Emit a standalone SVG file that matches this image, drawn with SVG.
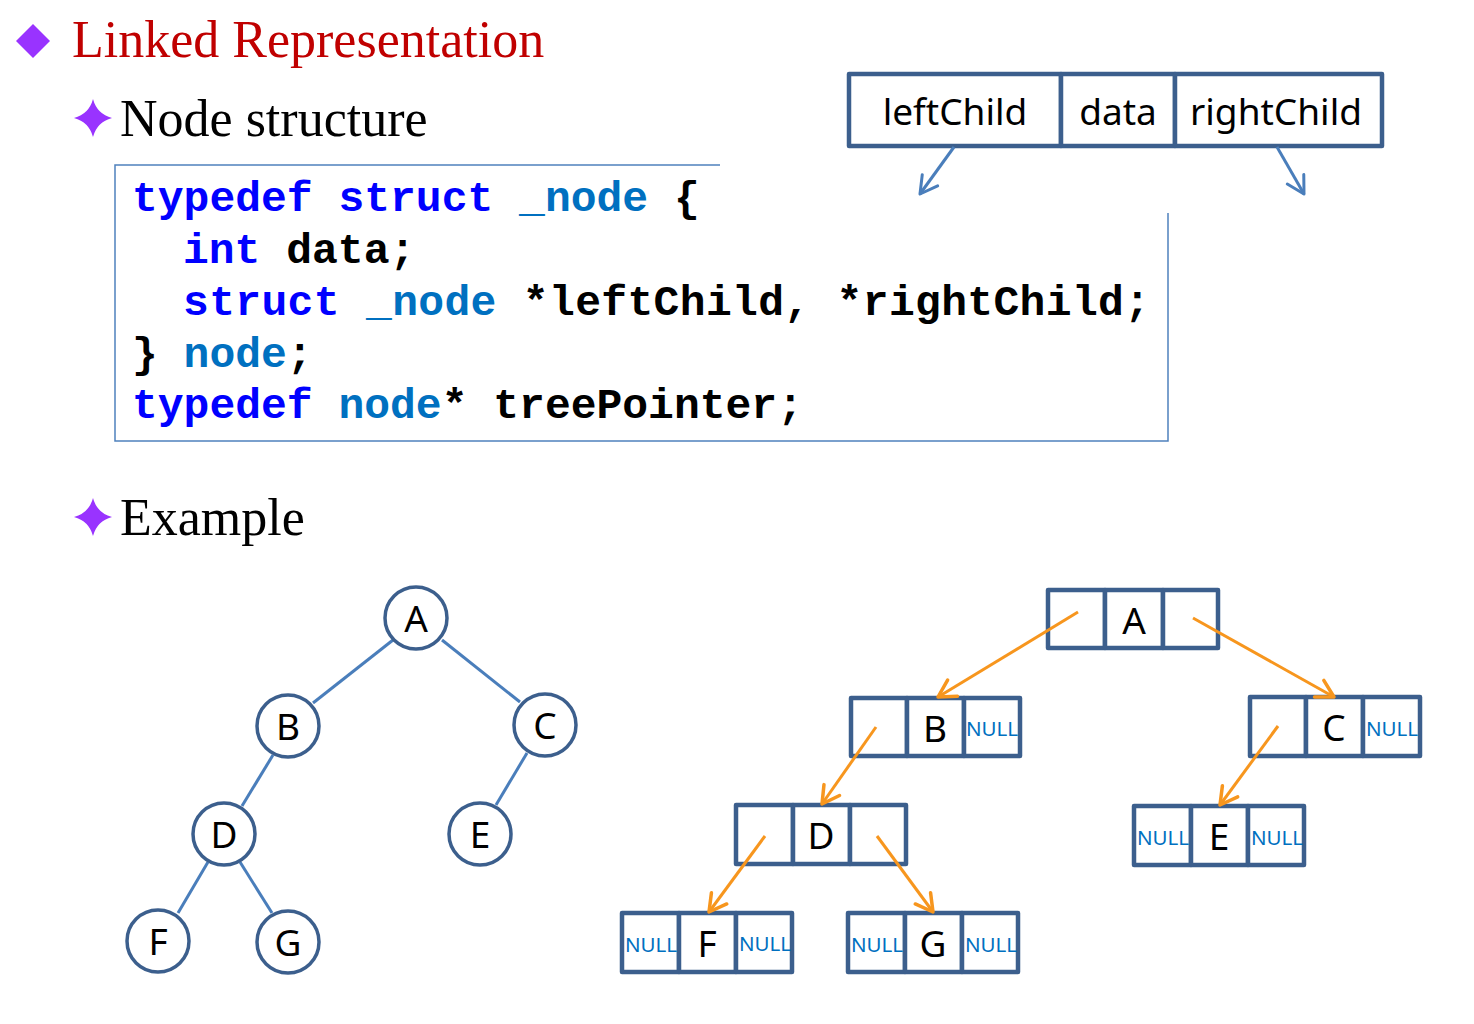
<svg xmlns="http://www.w3.org/2000/svg" width="1474" height="1024" viewBox="0 0 1474 1024">
<style>
.h{font-family:"Liberation Serif","Times New Roman",serif;font-size:52px}
.code{font-family:"Liberation Mono","Courier New",monospace;font-size:43px;font-weight:bold;fill:#000}
.kw{fill:#0000FF}
.ty{fill:#0070C0}
.lbl{font-family:"Noto Sans","Open Sans",sans-serif;font-size:37px;fill:#000;text-anchor:middle}
.nul{font-family:"Noto Sans","Open Sans",sans-serif;font-size:20.5px;fill:#0070C0}
.cell{fill:#fff;stroke:#3C5F8D;stroke-width:4.5;stroke-linejoin:round}
.circ{fill:#fff;stroke:#3C5F8D;stroke-width:3.5}
.edge{stroke:#4A7EBB;stroke-width:3;fill:none}
.ptr{stroke:#F7961E;stroke-width:3;fill:none;marker-end:url(#ao)}
.bptr{stroke:#4A7EBB;stroke-width:3;fill:none;marker-end:url(#ab)}
</style>
<defs>
<marker id="ao" markerUnits="userSpaceOnUse" markerWidth="40" markerHeight="40" refX="0" refY="0" viewBox="-20 -20 40 40" orient="auto" overflow="visible">
<path d="M-17,-9.5 L0,0 L-17,9.5" fill="none" stroke="#F7961E" stroke-width="3.5" stroke-linecap="round" stroke-linejoin="round"/>
</marker>
<marker id="ab" markerUnits="userSpaceOnUse" markerWidth="40" markerHeight="40" refX="0" refY="0" viewBox="-20 -20 40 40" orient="auto" overflow="visible">
<path d="M-17,-9.5 L0,0 L-17,9.5" fill="none" stroke="#4A7EBB" stroke-width="3" stroke-linecap="round" stroke-linejoin="round"/>
</marker>
</defs>
<rect width="1474" height="1024" fill="#fff"/>

<g id="heading">
<polygon points="33,24 50,41 33,58 16,41" fill="#9933FF"/>
<text class="h" x="72" y="57" fill="#C00000">Linked Representation</text>
<path d="M93,99 Q97,114 112,118 Q97,122 93,137 Q89,122 74,118 Q89,114 93,99 Z" fill="#9933FF"/>
<text class="h" x="120" y="136" fill="#000">Node structure</text>
<path d="M93,498 Q97,513 112,517 Q97,521 93,536 Q89,521 74,517 Q89,513 93,498 Z" fill="#9933FF"/>
<text class="h" x="120" y="535" fill="#000">Example</text>
</g>

<g id="code">
<polyline points="720,165 115,165 115,441 1168,441 1168,213" fill="none" stroke="#4F81BD" stroke-width="1.5"/>
<text class="code" x="132" y="211"><tspan class="kw">typedef</tspan> <tspan class="kw">struct</tspan> <tspan class="ty">_node</tspan> {</text>
<text class="code" x="183" y="263"><tspan class="kw">int</tspan> data;</text>
<text class="code" x="183" y="315" textLength="967" lengthAdjust="spacing"><tspan class="kw">struct</tspan> <tspan class="ty">_node</tspan> *leftChild, *rightChild;</text>
<text class="code" x="132" y="367">} <tspan class="ty">node</tspan>;</text>
<text class="code" x="132" y="418"><tspan class="kw">typedef</tspan> <tspan class="ty">node</tspan>* treePointer;</text>
</g>

<g id="node-structure">
<rect class="cell" x="849" y="74" width="212" height="72"/>
<rect class="cell" x="1061" y="74" width="114" height="72"/>
<rect class="cell" x="1175" y="74" width="207" height="72"/>
<text class="lbl" x="955" y="125">leftChild</text>
<text class="lbl" x="1118" y="125">data</text>
<text class="lbl" x="1276" y="125">rightChild</text>
</g>

<g id="tree-edges">
<line class="edge" x1="393" y1="640" x2="313" y2="703"/>
<line class="edge" x1="442" y1="640" x2="520" y2="702"/>
<line class="edge" x1="273" y1="755" x2="242" y2="806"/>
<line class="edge" x1="527" y1="753" x2="496" y2="805"/>
<line class="edge" x1="208" y1="862" x2="178" y2="913"/>
<line class="edge" x1="240" y1="862" x2="272" y2="913"/>
</g>

<g id="tree-A"><circle class="circ" cx="416" cy="618" r="31"/><text class="lbl" x="416" y="632">A</text></g>
<g id="tree-B"><circle class="circ" cx="288" cy="726" r="31"/><text class="lbl" x="288" y="740">B</text></g>
<g id="tree-C"><circle class="circ" cx="545" cy="725" r="31"/><text class="lbl" x="545" y="739">C</text></g>
<g id="tree-D"><circle class="circ" cx="224" cy="834" r="31"/><text class="lbl" x="224" y="848">D</text></g>
<g id="tree-E"><circle class="circ" cx="480" cy="834" r="31"/><text class="lbl" x="480" y="848">E</text></g>
<g id="tree-F"><circle class="circ" cx="158" cy="941" r="31"/><text class="lbl" x="158" y="955">F</text></g>
<g id="tree-G"><circle class="circ" cx="288" cy="942" r="31"/><text class="lbl" x="288" y="956">G</text></g>

<g id="list-A">
<rect class="cell" x="1048" y="590" width="57" height="58"/>
<rect class="cell" x="1105" y="590" width="58" height="58"/>
<rect class="cell" x="1163" y="590" width="55" height="58"/>
<text class="lbl" x="1134" y="634">A</text>
</g>
<g id="list-B">
<rect class="cell" x="851" y="698" width="56" height="58"/>
<rect class="cell" x="907" y="698" width="57" height="58"/>
<rect class="cell" x="964" y="698" width="56" height="58"/>
<text class="lbl" x="935" y="742">B</text>
<text class="nul" x="966" y="736">NULL</text>
</g>
<g id="list-C">
<rect class="cell" x="1250" y="697" width="56" height="59"/>
<rect class="cell" x="1306" y="697" width="57" height="59"/>
<rect class="cell" x="1363" y="697" width="57" height="59"/>
<text class="lbl" x="1334" y="741">C</text>
<text class="nul" x="1366" y="736">NULL</text>
</g>
<g id="list-D">
<rect class="cell" x="736" y="805" width="57" height="59"/>
<rect class="cell" x="793" y="805" width="57" height="59"/>
<rect class="cell" x="850" y="805" width="56" height="59"/>
<text class="lbl" x="821" y="849">D</text>
</g>
<g id="list-E">
<rect class="cell" x="1134" y="806" width="57" height="59"/>
<rect class="cell" x="1191" y="806" width="57" height="59"/>
<rect class="cell" x="1248" y="806" width="56" height="59"/>
<text class="lbl" x="1219" y="850">E</text>
<text class="nul" x="1137" y="845">NULL</text>
<text class="nul" x="1251" y="845">NULL</text>
</g>
<g id="list-F">
<rect class="cell" x="622" y="913" width="57" height="59"/>
<rect class="cell" x="679" y="913" width="57" height="59"/>
<rect class="cell" x="736" y="913" width="56" height="59"/>
<text class="lbl" x="707" y="957">F</text>
<text class="nul" x="625" y="952">NULL</text>
<text class="nul" x="739" y="951">NULL</text>
</g>
<g id="list-G">
<rect class="cell" x="848" y="913" width="57" height="59"/>
<rect class="cell" x="905" y="913" width="57" height="59"/>
<rect class="cell" x="962" y="913" width="56" height="59"/>
<text class="lbl" x="933" y="957">G</text>
<text class="nul" x="851" y="952">NULL</text>
<text class="nul" x="965" y="952">NULL</text>
</g>

<g id="connectors">
<line class="bptr" x1="954" y1="147" x2="920" y2="194"/>
<line class="bptr" x1="1277" y1="147" x2="1304" y2="194"/>
<line class="ptr" x1="1078" y1="612" x2="938" y2="697"/>
<line class="ptr" x1="1193" y1="618" x2="1334" y2="697"/>
<line class="ptr" x1="876" y1="727" x2="822" y2="804"/>
<line class="ptr" x1="1278" y1="726" x2="1220" y2="805"/>
<line class="ptr" x1="765" y1="836" x2="709" y2="912"/>
<line class="ptr" x1="877" y1="836" x2="933" y2="912"/>
</g>
</svg>
